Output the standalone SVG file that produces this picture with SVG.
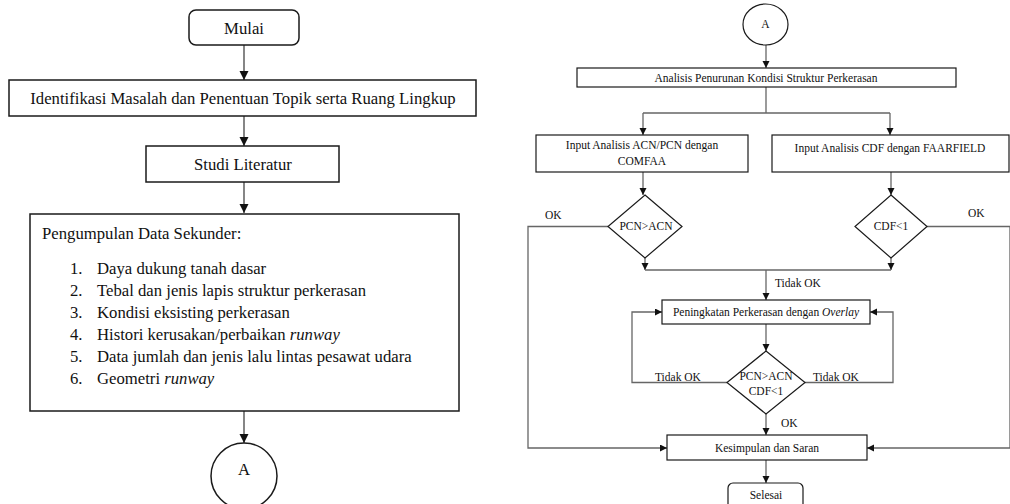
<svg xmlns="http://www.w3.org/2000/svg" width="1010" height="504" viewBox="0 0 1010 504">
<style>
.box{fill:#fff;stroke:#1a1a1a;stroke-width:1.5}
.box2{fill:#fff;stroke:#1a1a1a;stroke-width:1.2}
.ln{fill:none;stroke:#666;stroke-width:1.3}
.lnL{fill:none;stroke:#444;stroke-width:1.3}
.t{font-family:"Liberation Serif","Times New Roman",serif;fill:#111}
.L{font-size:16.7px}
.R{font-size:11.5px}
.c{text-anchor:middle}
</style>
<defs>
<marker id="aL" markerWidth="10" markerHeight="10" refX="9" refY="5" orient="auto" markerUnits="userSpaceOnUse">
<path d="M0,0.5 L9,5 L0,9.5 Z" fill="#111"/>
</marker>
<marker id="aR" markerWidth="8" markerHeight="8" refX="7" refY="3.5" orient="auto" markerUnits="userSpaceOnUse">
<path d="M0,0 L7,3.5 L0,7 Z" fill="#111"/>
</marker>
</defs>

<g id="connectors">
<path class="lnL" d="M244,45 V80" marker-end="url(#aL)"/>
<path class="lnL" d="M244,116 V146" marker-end="url(#aL)"/>
<path class="lnL" d="M244,182 V213" marker-end="url(#aL)"/>
<path class="lnL" d="M244,411 V443" marker-end="url(#aL)"/>

<path class="ln" d="M766,45 V68" marker-end="url(#aR)"/>
<path class="ln" d="M766,87 V113 M643,113 H890"/>
<path class="ln" d="M643,113 V135" marker-end="url(#aR)"/>
<path class="ln" d="M890,113 V135" marker-end="url(#aR)"/>
<path class="ln" d="M643,172 V195" marker-end="url(#aR)"/>
<path class="ln" d="M891,172 V195" marker-end="url(#aR)"/>
<path class="ln" d="M645,258 V270" marker-end="url(#aR)"/>
<path class="ln" d="M891,258 V270" marker-end="url(#aR)"/>
<path class="ln" d="M645,270 H891"/>
<path class="ln" d="M766,270 V300" marker-end="url(#aR)"/>
<path class="ln" d="M608,226.5 H528 V448 H667" marker-end="url(#aR)"/>
<path class="ln" d="M927,226.5 H1010 V448 H867" marker-end="url(#aR)"/>
<path class="ln" d="M766,324 V351" marker-end="url(#aR)"/>
<path class="ln" d="M727,382.5 H632 V312 H662" marker-end="url(#aR)"/>
<path class="ln" d="M805,382.5 H893 V312 H870" marker-end="url(#aR)"/>
<path class="ln" d="M766,414 V435" marker-end="url(#aR)"/>
<path class="ln" d="M766,460 V483" marker-end="url(#aR)"/>
</g>

<g id="mulai">
<rect class="box" x="189" y="10" width="110" height="35" rx="7"/>
<text class="t L c" x="244" y="34">Mulai</text>
</g>
<g id="identifikasi">
<rect class="box" x="9" y="80" width="467" height="36"/>
<text class="t L c" x="243" y="104">Identifikasi Masalah dan Penentuan Topik serta Ruang Lingkup</text>
</g>
<g id="studi">
<rect class="box" x="146" y="146" width="193" height="36"/>
<text class="t L c" x="243" y="170">Studi Literatur</text>
</g>
<g id="pengumpulan">
<rect class="box" x="30" y="214" width="429" height="197"/>
<text class="t L" x="42" y="239">Pengumpulan Data Sekunder:</text>
<text class="t L" x="70" y="274">1.</text><text class="t L" x="97" y="274">Daya dukung tanah dasar</text>
<text class="t L" x="70" y="296">2.</text><text class="t L" x="97" y="296">Tebal dan jenis lapis struktur perkerasan</text>
<text class="t L" x="70" y="318">3.</text><text class="t L" x="97" y="318">Kondisi eksisting perkerasan</text>
<text class="t L" x="70" y="340">4.</text><text class="t L" x="97" y="340">Histori kerusakan/perbaikan <tspan font-style="italic">runway</tspan></text>
<text class="t L" x="70" y="362">5.</text><text class="t L" x="97" y="362">Data jumlah dan jenis lalu lintas pesawat udara</text>
<text class="t L" x="70" y="384">6.</text><text class="t L" x="97" y="384">Geometri <tspan font-style="italic">runway</tspan></text>
</g>
<g id="connectorA-left">
<circle class="box" cx="244" cy="476" r="33"/>
<text class="t L c" x="244" y="475">A</text>
</g>

<g id="connectorA-right">
<ellipse class="box2" cx="765.5" cy="24.5" rx="22.5" ry="20.5"/>
<text class="t R c" x="765.5" y="28">A</text>
</g>
<g id="analisis">
<rect class="box2" x="577" y="68" width="379" height="19"/>
<text class="t R c" x="766" y="81.5">Analisis Penurunan Kondisi Struktur Perkerasan</text>
</g>
<g id="input-acn">
<rect class="box2" x="536" y="135" width="212" height="37"/>
<text class="t R c" x="642" y="149">Input Analisis ACN/PCN dengan</text>
<text class="t R c" x="642" y="165">COMFAA</text>
</g>
<g id="input-cdf">
<rect class="box2" x="772" y="135" width="237" height="37"/>
<text class="t R c" x="890" y="152">Input Analisis CDF dengan FAARFIELD</text>
</g>
<g id="dec-pcn">
<polygon class="box2" points="645,195 682,226.5 645,258 608,226.5"/>
<text class="t R c" x="646" y="230">PCN&gt;ACN</text>
</g>
<g id="dec-cdf">
<polygon class="box2" points="891,195 927,226.5 891,258 855,226.5"/>
<text class="t R c" x="891" y="230">CDF&lt;1</text>
</g>
<g id="peningkatan">
<rect class="box2" x="662" y="300" width="208" height="24"/>
<text class="t R c" x="766" y="316">Peningkatan Perkerasan dengan <tspan font-style="italic">Overlay</tspan></text>
</g>
<g id="dec-both">
<polygon class="box2" points="766,351 805,382.5 766,414 727,382.5"/>
<text class="t R c" x="766" y="380">PCN&gt;ACN</text>
<text class="t R c" x="766" y="395">CDF&lt;1</text>
</g>
<g id="kesimpulan">
<rect class="box2" x="667" y="435" width="200" height="25"/>
<text class="t R c" x="767" y="451.5">Kesimpulan dan Saran</text>
</g>
<g id="selesai">
<rect class="box2" x="728" y="483" width="75" height="30" rx="5"/>
<text class="t R c" x="766" y="499">Selesai</text>
</g>

<g id="labels">
<text class="t R" x="545" y="219">OK</text>
<text class="t R" x="968" y="217">OK</text>
<text class="t R" x="775" y="287">Tidak OK</text>
<text class="t R" x="655" y="381">Tidak OK</text>
<text class="t R" x="813" y="381">Tidak OK</text>
<text class="t R" x="781" y="427">OK</text>
</g>
</svg>
